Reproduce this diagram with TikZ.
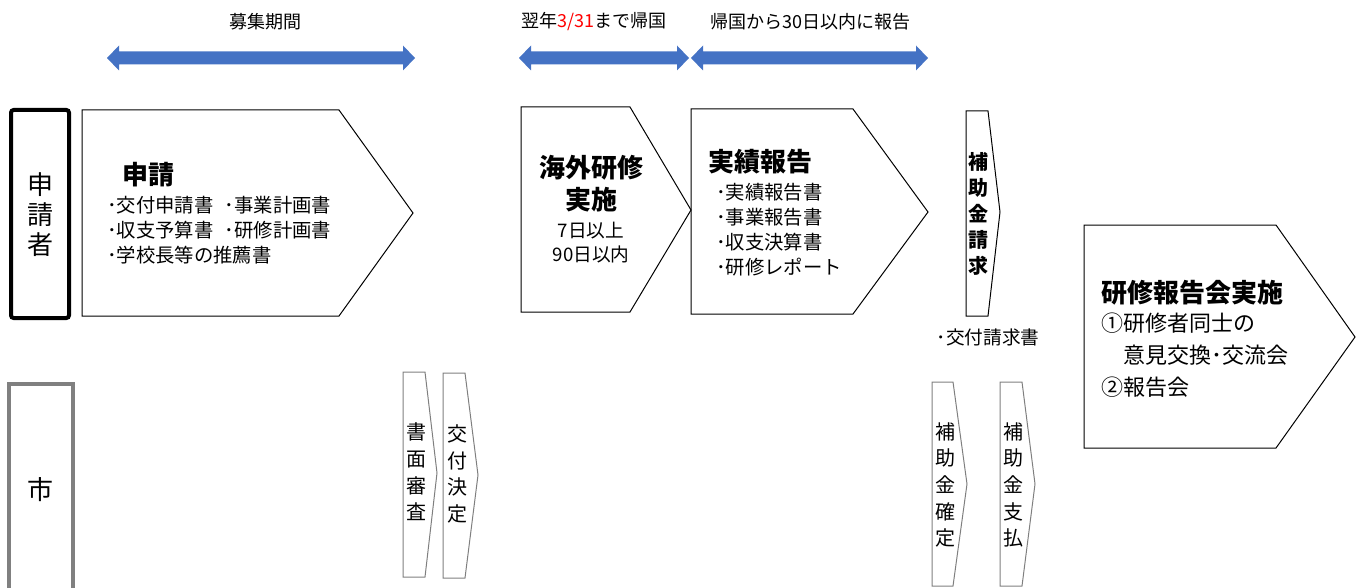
\documentclass[tikz,border=0pt]{standalone}
\usepackage{fontspec}
\setmainfont{Noto Sans CJK JP}
\usetikzlibrary{calc}
\definecolor{arrblue}{HTML}{4472C4}
\definecolor{lanegray}{HTML}{808080}
\definecolor{thingray}{HTML}{7F7F7F}
\newcommand{\fsz}[2]{\fontsize{#1}{#2}\selectfont}
\newcommand{\spanarrow}[2]{%
  \fill[arrblue] (#1) -- ++(12,-12.5) -- ++(0,6) -- ($(#2)+(-12,-6.5)$) -- ++(0,-6) -- (#2)
    -- ++(-12,12.5) -- ++(0,-6) -- ($(#1)+(12,6.5)$) -- ++(0,6) -- cycle;}
\begin{document}
\begin{tikzpicture}[x=0.75pt,y=-0.75pt,
  penta/.style={draw=black,line width=0.75pt},
  thinpenta/.style={draw=thingray,line width=0.75pt},
  txt/.style={inner sep=0pt,outer sep=0pt},
  toplbl/.style={txt,font=\fsz{13.5pt}{16pt}},
  lanetxt/.style={txt,align=center,font=\fsz{19.5pt}{22.5pt}},
  title/.style={txt,font=\fsz{19.5pt}{24pt}\bfseries},
  items/.style={txt,align=left,font=\fsz{14.5pt}{18.75pt}},
  vert/.style={txt,align=center,font=\fsz{15pt}{20pt}},
  vertb/.style={txt,align=center,font=\fsz{15pt}{19.5pt}\bfseries}
]
\useasboundingbox (0,0) rectangle (1362,588);

% period labels and arrows
\node[toplbl] (lblA) at (265,22) {募集期間};
\node[toplbl] (lblB) at (594,22) {翌年\textcolor{red}{3/31}まで帰国};
\node[toplbl] (lblC) at (810,22) {帰国から30日以内に報告};
\coordinate (a1l) at (107,58); \coordinate (a1r) at (415,58);
\coordinate (a2l) at (519,58); \coordinate (a2r) at (689,58);
\coordinate (a3l) at (691,58); \coordinate (a3r) at (928,58);
\spanarrow{a1l}{a1r}
\spanarrow{a2l}{a2r}
\spanarrow{a3l}{a3r}

% lanes
\draw[line width=3pt,rounded corners=2pt] (11,110) rectangle (69,318);
\node[lanetxt] (laneA) at (40,215) {申\\請\\者};
\draw[lanegray,line width=2.4pt] (9,620) -- (9,384) -- (73,384) -- (73,620);
\node[lanetxt] (laneB) at (40,490) {市};

% 申請
\draw[penta] (82,110) -- (339,110) -- (413,213) -- (339,316) -- (82,316) -- cycle;
\node[title,anchor=west] (t1) at (122,175) {申請};
\node[items,anchor=west] (i1) at (107,230) {･交付申請書\hspace{0.6em}･事業計画書\\･収支予算書\hspace{0.6em}･研修計画書\\･学校長等の推薦書};

% 海外研修実施
\draw[penta] (521,107) -- (630,107) -- (691,210) -- (630,312) -- (521,312) -- cycle;
\node[title,align=center] (t2) at (591,184) {海外研修\\実施};
\node[txt,align=center,font=\fsz{14pt}{18pt}] (i2) at (591,243) {7日以上\\90日以内};

% 実績報告
\draw[penta] (691,109) -- (853,109) -- (928,212) -- (853,314) -- (691,314) -- cycle;
\node[title,anchor=west] (t3) at (708,162) {実績報告};
\node[items,anchor=west] (i3) at (716,229.5) {･実績報告書\\･事業報告書\\･収支決算書\\･研修レポート};

% 補助金請求
\draw[penta] (966,111) -- (988,111) -- (1000,212) -- (988,316) -- (966,316) -- cycle;
\node[vertb] (t4) at (978,214) {補\\助\\金\\請\\求};
\node[txt,font=\fsz{14pt}{16pt}] (i4) at (988,337) {･交付請求書};

% 研修報告会実施
\draw[penta] (1084,225) -- (1276,225) -- (1355,337) -- (1276,448) -- (1084,448) -- cycle;
\node[title,anchor=west] (t5) at (1101,293) {研修報告会実施};
\node[txt,align=left,anchor=west,font=\fsz{16.5pt}{24pt}] (i5) at (1101,355) {①研修者同士の\\\hspace*{1em}意見交換･交流会\\②報告会};

% 市 steps
\draw[thinpenta] (403,372) -- (425,372) -- (437,473) -- (425,577) -- (403,577) -- cycle;
\node[vert] (s1) at (416,472) {書\\面\\審\\査};
\draw[thinpenta] (443,373) -- (465,373) -- (478,475) -- (465,578) -- (443,578) -- cycle;
\node[vert] (s2) at (457,474) {交\\付\\決\\定};
\draw[thinpenta] (932,382) -- (953,382) -- (967,484) -- (953,586) -- (932,586) -- cycle;
\node[vert] (s3) at (945,485) {補\\助\\金\\確\\定};
\draw[thinpenta] (1000,382) -- (1022,382) -- (1035,484) -- (1022,586) -- (1000,586) -- cycle;
\node[vert] (s4) at (1013,485) {補\\助\\金\\支\\払};
\end{tikzpicture}
\end{document}
